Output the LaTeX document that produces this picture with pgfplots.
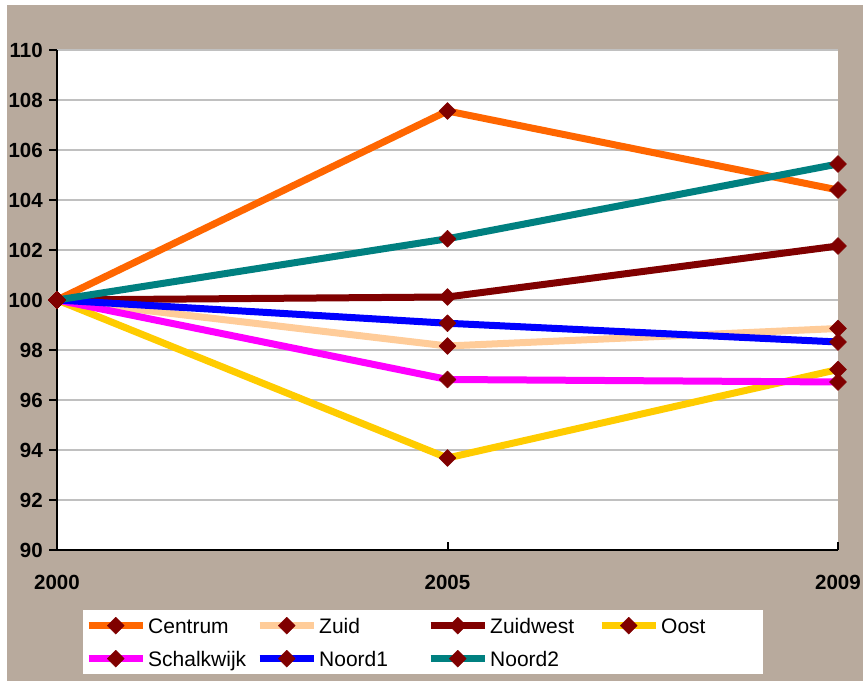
\documentclass[border=0pt]{standalone}
\usepackage{pgfplots}
\pgfplotsset{compat=1.18}
\usepackage{fontspec}
\setmainfont{Liberation Sans}

\definecolor{framebg}{HTML}{B8AA9D}
\definecolor{gridgray}{HTML}{C0C0C0}
\definecolor{markred}{HTML}{800000}
\definecolor{cCentrum}{HTML}{FF6600}
\definecolor{cZuid}{HTML}{FFCC99}
\definecolor{cZuidwest}{HTML}{800000}
\definecolor{cOost}{HTML}{FFCC00}
\definecolor{cSchalkwijk}{HTML}{FF00FF}
\definecolor{cNoord1}{HTML}{0000FF}
\definecolor{cNoord2}{HTML}{008080}

\newcommand{\lbl}[1]{\makebox[100pt][l]{#1}}
\newcommand{\tickfont}{\fontsize{20.5pt}{22pt}\selectfont\bfseries}

\begin{document}
\begin{tikzpicture}[x=1pt,y=1pt]
\useasboundingbox (0,0) rectangle (863,682);
\fill[white] (0,0) rectangle (863,682);
\fill[framebg] (7,1) rectangle (863,677);
\begin{axis}[
  at={(57pt,132pt)}, anchor=south west,
  scale only axis, width=781pt, height=500pt,
  xmin=0, xmax=2, ymin=90, ymax=110,
  xtick={0,1,2}, xticklabels={{\tickfont 2000},{\tickfont 2005},{\tickfont 2009}},
  ytick={90,92,...,110},
  yticklabels={{\tickfont 90},{\tickfont 92},{\tickfont 94},{\tickfont 96},{\tickfont 98},
    {\tickfont 100},{\tickfont 102},{\tickfont 104},{\tickfont 106},{\tickfont 108},{\tickfont 110}},
  axis x line*=bottom, axis y line*=left,
  axis line style={line width=2pt, black, -},
  axis background/.style={fill=white},
  ymajorgrids, major grid style={gridgray, line width=2.5pt},
  tick style={black, line width=2pt},
  major tick length=8pt,
  ytick align=outside, xtick align=inside,
  tick label style={inner sep=0pt},
  yticklabel style={anchor=east, xshift=-6pt},
  xticklabel style={anchor=north, yshift=-25pt},
  clip=false,
  every axis plot/.append style={line width=7pt, line join=round,
    mark=square*, mark size=6pt,
    mark options={rotate=45, fill=markred, draw=markred, line width=0.4pt, solid}},
  legend columns=4,
  legend cell align=left,
  legend style={at={(0.0333,-0.12)}, anchor=north west,
    draw=none, fill=white, inner xsep=2pt, inner ysep=7pt,
    font=\fontsize{21}{21}\selectfont,
    nodes={inner sep=0pt, text height=15pt, text depth=0pt},
    row sep=16pt,
    /tikz/every odd column/.append style={column sep=2pt},
    /tikz/every even column/.append style={column sep=8pt}},
  legend image code/.code={
    \draw[mark repeat=2, mark phase=2, #1]
      plot coordinates {(0pt,0pt) (27pt,0pt) (54pt,0pt)};},
]
\addplot[color=cCentrum] coordinates {(0,100) (1,107.56) (2,104.40)};
\addlegendentry{\lbl{Centrum}}
\addplot[color=cZuid] coordinates {(0,100) (1,98.16) (2,98.86)};
\addlegendentry{\lbl{Zuid}}
\addplot[color=cZuidwest] coordinates {(0,100) (1,100.12) (2,102.16)};
\addlegendentry{\lbl{Zuidwest}}
\addplot[color=cOost] coordinates {(0,100) (1,93.68) (2,97.22)};
\addlegendentry{\lbl{Oost}}
\addplot[color=cSchalkwijk] coordinates {(0,100) (1,96.82) (2,96.72)};
\addlegendentry{\lbl{Schalkwijk}}
\addplot[color=cNoord1] coordinates {(0,100) (1,99.07) (2,98.32)};
\addlegendentry{\lbl{Noord1}}
\addplot[color=cNoord2] coordinates {(0,100) (1,102.45) (2,105.44)};
\addlegendentry{\lbl{Noord2}}
\end{axis}
\end{tikzpicture}
\end{document}
